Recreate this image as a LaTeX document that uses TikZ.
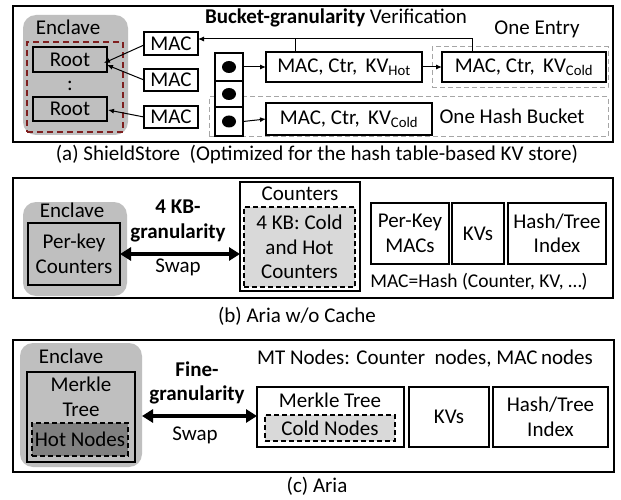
\documentclass[tikz,border=0pt]{standalone}
\usepackage{fontspec}
\setmainfont{Carlito}
\usetikzlibrary{arrows.meta,shapes.geometric}
\definecolor{encl}{HTML}{BFBFBF}
\definecolor{darkfill}{HTML}{808080}
\definecolor{lightfill}{HTML}{D9D9D9}
\definecolor{darkred}{HTML}{7F1F1F}
\definecolor{dashgray}{HTML}{A6A6A6}
\newcommand\bx[7]{\node[#6, minimum width={#4-#2}, minimum height={#5-#3}] (#1) at ({(#2+#4)/2},{(#3+#5)/2}) {#7};}
\begin{document}
\begin{tikzpicture}[x=1pt,y=-1pt,
  font=\fontsize{21}{24.5}\selectfont,
  every node/.style={inner sep=0pt, outer sep=0pt, align=center},
  frame/.style={draw, line width=1.6pt},
  box/.style={draw, line width=1.6pt, fill=white},
  gbox/.style={draw, line width=1.6pt, fill=encl},
  enclave/.style={fill=encl, rounded corners=13pt},
  reddash/.style={draw=darkred, line width=1.8pt, dash pattern=on 6pt off 4pt},
  graydash/.style={draw=dashgray, line width=1pt, dash pattern=on 5pt off 3pt},
  blackdash/.style={draw, line width=1.6pt, dash pattern=on 5pt off 3pt},
  arr/.style={line width=1pt, -{Latex[length=6pt,width=5pt]}},
  swap/.style={line width=3.5pt, {Triangle[length=11pt,width=13pt]}-{Triangle[length=11pt,width=13pt]}},
  dot/.style={fill=black, ellipse, minimum width=14pt, minimum height=12pt}
]
\useasboundingbox (0,0) rectangle (621,500);
\fill[white] (0,0) rectangle (621,500);

% ---------------- (a) ----------------
\bx{fa}{13}{6}{613}{142}{frame}{}
\bx{ena}{23}{15}{128}{135}{enclave}{}
\node (enat) at (68,27) {Enclave};
\bx{rda}{27}{42}{123}{132}{reddash}{}
\bx{root1}{33}{47}{107}{72}{gbox}{Root}
\bx{root2}{33}{97}{107}{121}{gbox}{Root}
\node (vd) at (70,86) {:};
\bx{mac1}{144}{32}{198}{55}{box}{MAC}
\bx{mac2}{144}{69}{198}{91}{box}{MAC}
\bx{mac3}{144}{106}{198}{128}{box}{MAC}
\coordinate (t1) at (104,63);
\coordinate (t2) at (107,65);
\coordinate (t3) at (108,110);
\draw[arr] ([yshift=-1.5pt]mac1.west) -- (t1);
\draw[arr] (mac2.west) -- (t2);
\draw[arr] (mac3.west) -- (t3);

\bx{hb}{209}{97}{608}{137}{graydash}{}
\bx{oe}{432}{47}{608}{88}{graydash}{}
\bx{c1}{215}{53}{243}{81}{box}{}
\bx{c2}{215}{81}{243}{107}{box}{}
\bx{c3}{215}{107}{243}{136}{box}{}
\node[dot] (d1) at (c1) {};
\node[dot] (d2) at (c2) {};
\node[dot] (d3) at (c3) {};
\bx{kvh}{266}{52}{422}{82}{box}{MAC, Ctr,\, KV\textsubscript{Hot}}
\bx{kvc1}{442}{52}{606}{82}{box}{MAC, Ctr,\, KV\textsubscript{Cold}}
\bx{kvc2}{266}{103}{432}{135}{box}{MAC, Ctr,\, KV\textsubscript{Cold}}
\draw[arr] (c1.east) -- (kvh.west);
\draw[arr] (c3.east) -- (kvc2.west);
\draw[arr] (kvh.east) -- (kvc1.west);
\draw[arr] ([xshift=-52pt]kvc1.north) |- ([yshift=4.5pt]mac1.east);
\draw[line width=1pt] ([xshift=-49pt]kvh.north) -- ++(0,-13);
\node (title) at (336,18) {\textbf{Bucket-granularity} Verification};
\node (oet) at (537,29) {One Entry};
\node (hbt) at (512,116) {One Hash Bucket};
\node (capa) at (317,155) {(a) ShieldStore\ \ (Optimized for the hash table-based KV store)};

% ---------------- (b) ----------------
\bx{fb}{13}{178}{613}{298}{frame}{}
\bx{enb}{23}{202}{127}{296}{enclave}{}
\node (enbt) at (72,210) {Enclave};
\bx{pkc}{28}{223}{120}{285}{gbox}{Per-key\\Counters}
\bx{ctr}{240}{182}{360}{291}{box}{}
\node (ctrt) at (300,194) {Counters};
\bx{ctri}{244}{207}{355}{287}{blackdash, fill=lightfill}{4 KB: Cold\\and Hot\\Counters}
\draw[swap] (pkc.east) -- (ctr.west |- pkc.east);
\node (kbt) at (178,221) {\textbf{4 KB-}\\\textbf{granularity}};
\node (swb) at (178,267) {Swap};
\bx{pkm}{371}{203}{449}{264}{box}{Per-Key\\MACs}
\bx{kvb}{452}{203}{504}{264}{box}{KVs}
\bx{htb}{508}{203}{606}{264}{box}{Hash/Tree\\Index}
\node[font=\fontsize{19.5}{23}\selectfont] (mach) at (479,282) {MAC=Hash (Counter, KV, \ldots)};
\node (capb) at (297,316) {(b) Aria w/o Cache};

% ---------------- (c) ----------------
\bx{fc}{13}{340}{614}{472}{frame}{}
\bx{enc}{20}{343}{142}{467}{enclave}{}
\node (enct) at (71,356) {Enclave};
\bx{mte}{27}{372}{135}{462}{gbox}{}
\node (mtet) at (81,397) {Merkle\\Tree};
\bx{hot}{32}{423}{128}{456}{blackdash, fill=darkfill}{Hot Nodes}
\bx{mt}{257}{387}{404}{447}{box}{}
\node (mtt) at (330,400) {Merkle Tree};
\bx{cold}{265}{415}{395}{441}{blackdash, fill=lightfill}{Cold Nodes}
\bx{kvcc}{409}{387}{489}{447}{box}{KVs}
\bx{htc}{493}{387}{608}{447}{box}{Hash/Tree\\Index}
\coordinate (sc) at (142,416);
\draw[swap] (sc) -- (mt.west |- sc);
\node (fgt) at (197,383) {\textbf{Fine-}\\\textbf{granularity}};
\node (swc) at (195,435) {Swap};
\node (mtn) at (425,359) {MT Nodes: Counter\ \ nodes, MAC\,nodes};
\node (capc) at (317,486) {(c) Aria};
\end{tikzpicture}
\end{document}
